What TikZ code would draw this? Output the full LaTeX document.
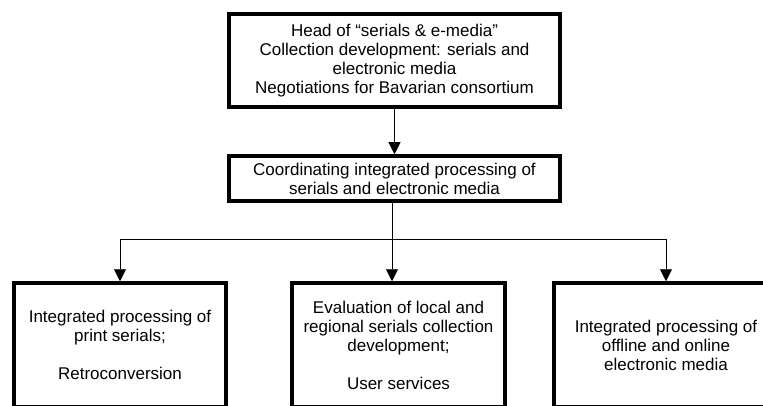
\documentclass[tikz,border=0pt]{standalone}
\usepackage{fontspec}
\setmainfont{Liberation Sans}
\usepackage{tikz}
\usetikzlibrary{arrows.meta, positioning}

\begin{document}
\begin{tikzpicture}[x=1pt, y=-1pt,
    unit/.style={rectangle, draw, line width=3.5pt, align=center, inner sep=0pt,
        font=\fontsize{17}{19}\selectfont},
    link/.style={line width=0.9pt, -{Triangle[length=12pt,width=12pt]}}]

    \useasboundingbox (0,0) rectangle (763,406);
    \clip (0,0) rectangle (763,406);

    \node [unit, minimum width=331pt, minimum height=93pt] (head) at (394.5,60.5)
        {Head of ``serials \& e-media''\\Collection development: serials and\\electronic media\\Negotiations for Bavarian consortium};
    \node [unit, minimum width=331pt, minimum height=45pt] (coord) at (394.5,178.5)
        {Coordinating integrated processing of\\serials and electronic media};

    \node [unit, minimum width=212pt, minimum height=124pt] (print) at (120,345)
        {Integrated processing of\\print serials;\\[19pt]Retroconversion};
    \node [unit, minimum width=213pt, minimum height=124pt] (eval) at (398.5,345)
        {Evaluation of local and\\regional serials collection\\development;\\[19pt]User services};
    \node [unit, minimum width=224pt, minimum height=124pt] (emedia) at (666,345)
        {Integrated processing of\\offline and online\\electronic media};

    \coordinate (split) at (392,239);

    \draw [link] (head) -- (coord);
    \draw [line width=0.9pt] (coord.south -| split) -- (split);
    \draw [link] (split) -| (print.north);
    \draw [link] (split) -| (emedia.north);
    \draw [link] (split) -- (split |- eval.north);
\end{tikzpicture}
\end{document}
